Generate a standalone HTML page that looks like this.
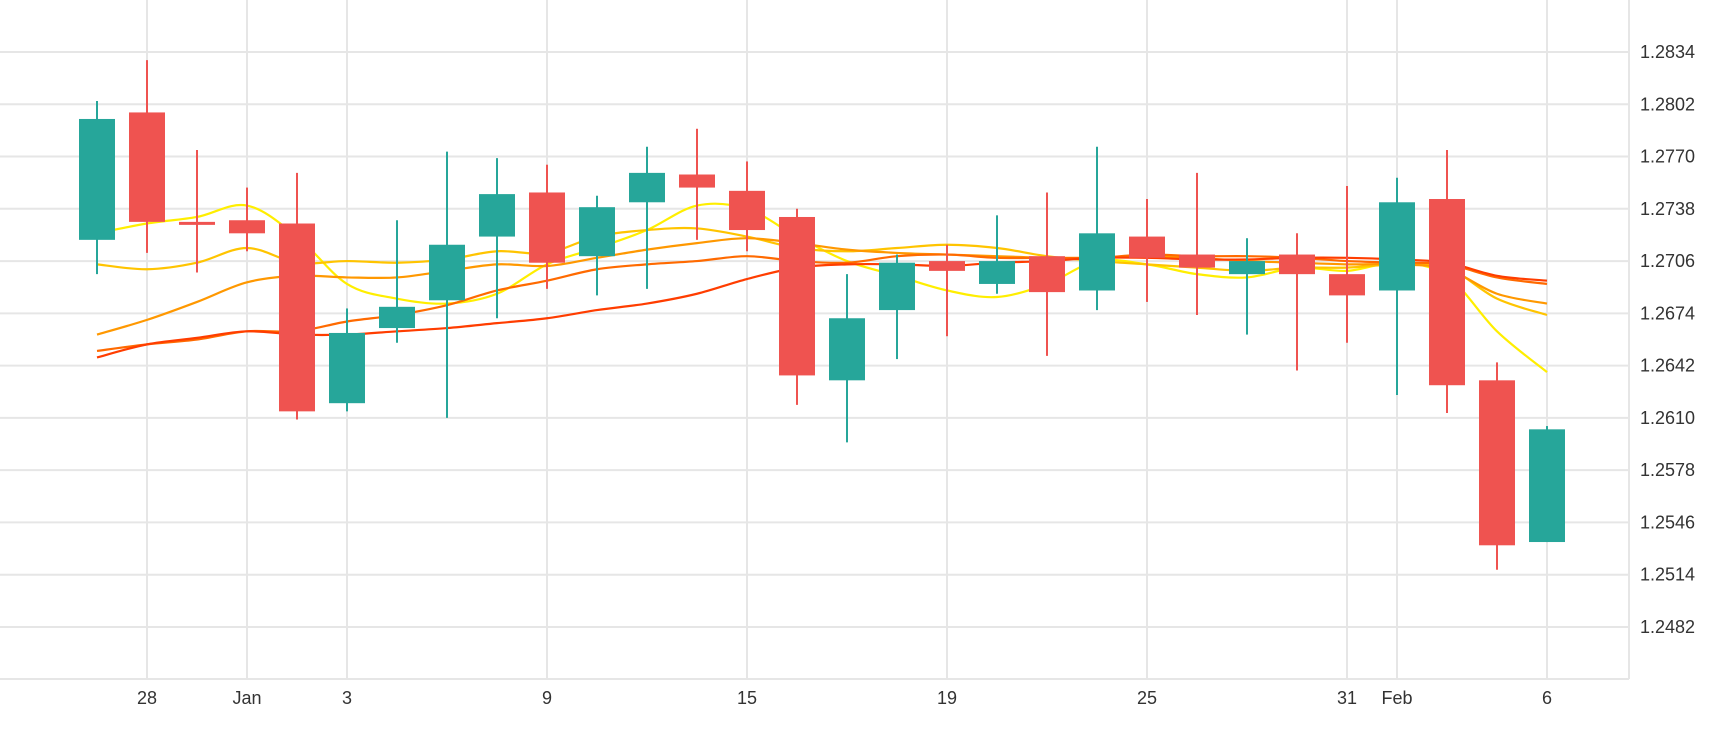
<!DOCTYPE html>
<html><head><meta charset="utf-8"><style>
html,body{margin:0;padding:0;background:#fff;width:1730px;height:730px;overflow:hidden}
svg text{font-family:"Liberation Sans",sans-serif;font-size:18px;fill:#333}
</style></head><body>
<svg id="chart" width="1730" height="730" xmlns="http://www.w3.org/2000/svg">
<g id="grid"></g>
<g id="lines"></g>
<g id="candles"></g>
<g id="axes"></g>
</svg>
<script>
const categories=["Dec 27","28","Dec 29","Jan","Jan 2","3","Jan 4","Jan 5","Jan 8","9","Jan 10","Jan 11","Jan 12","15","Jan 16","Jan 17","Jan 18","19","Jan 22","Jan 23","Jan 24","25","Jan 26","Jan 29","Jan 30","31","Feb","Feb 2","Feb 5","6"];
const labeledIdx=[1,3,5,9,13,17,21,25,26,29];
const openV=[1.2719,1.2797,1.2730,1.2731,1.2729,1.2619,1.2665,1.2682,1.2721,1.2748,1.2709,1.2742,1.2759,1.2749,1.2733,1.2633,1.2676,1.2706,1.2692,1.2709,1.2688,1.2721,1.2710,1.2698,1.2710,1.2698,1.2688,1.2744,1.2633,1.2534];
const highV=[1.2804,1.2829,1.2774,1.2751,1.2760,1.2677,1.2731,1.2773,1.2769,1.2765,1.2746,1.2776,1.2787,1.2767,1.2738,1.2698,1.2710,1.2716,1.2734,1.2748,1.2776,1.2744,1.2760,1.2720,1.2723,1.2752,1.2757,1.2774,1.2644,1.2605];
const lowV=[1.2698,1.2711,1.2699,1.2712,1.2609,1.2614,1.2656,1.2610,1.2671,1.2689,1.2685,1.2689,1.2719,1.2712,1.2618,1.2595,1.2646,1.2660,1.2686,1.2648,1.2676,1.2681,1.2673,1.2661,1.2639,1.2656,1.2624,1.2613,1.2517,1.2534];
const closeV=[1.2793,1.2730,1.2729,1.2723,1.2614,1.2662,1.2678,1.2716,1.2747,1.2705,1.2739,1.2760,1.2751,1.2725,1.2636,1.2671,1.2705,1.2700,1.2706,1.2687,1.2723,1.2708,1.2702,1.2706,1.2698,1.2685,1.2742,1.2630,1.2532,1.2603];
const maYellow=[1.2723,1.2729,1.2733,1.2740,1.2721,1.2692,1.2683,1.2680,1.2686,1.2704,1.2714,1.2725,1.2740,1.2738,1.2721,1.2706,1.2697,1.2688,1.2684,1.2692,1.2706,1.2704,1.2698,1.2696,1.2702,1.2700,1.2705,1.2697,1.2663,1.2638];
const maGold=[1.2704,1.2701,1.2705,1.2714,1.2705,1.2706,1.2705,1.2707,1.2712,1.2711,1.2721,1.2725,1.2726,1.2721,1.2714,1.2712,1.2714,1.2716,1.2714,1.2709,1.2706,1.2704,1.2702,1.2700,1.2702,1.2702,1.2704,1.2702,1.2683,1.2673];
const maOrange=[1.2661,1.2670,1.2681,1.2693,1.2697,1.2696,1.2696,1.2700,1.2704,1.2703,1.2708,1.2713,1.2717,1.2720,1.2717,1.2713,1.2711,1.2710,1.2709,1.2708,1.2708,1.2709,1.2708,1.2706,1.2705,1.2704,1.2704,1.2701,1.2686,1.2680];
const maOrangeRed=[1.2651,1.2655,1.2658,1.2663,1.2663,1.2669,1.2673,1.2679,1.2688,1.2694,1.2701,1.2704,1.2706,1.2709,1.2706,1.2705,1.2709,1.2710,1.2708,1.2708,1.2708,1.2710,1.2709,1.2709,1.2708,1.2706,1.2705,1.2704,1.2696,1.2692];
const maRed=[1.2647,1.2655,1.2659,1.2663,1.2661,1.2661,1.2663,1.2665,1.2668,1.2671,1.2676,1.2680,1.2686,1.2695,1.2702,1.2704,1.2704,1.2703,1.2705,1.2706,1.2708,1.2708,1.2707,1.2707,1.2708,1.2708,1.2707,1.2705,1.2697,1.2694];
const yTicks=["1.2834","1.2802","1.2770","1.2738","1.2706","1.2674","1.2642","1.2610","1.2578","1.2546","1.2514","1.2482"];

const NS="http://www.w3.org/2000/svg";
const xScale=i=>97+50*i;
const yScale=v=>52+(1.2834-v)/0.0032*52.27;
function mk(tag,attrs,parent){const e=document.createElementNS(NS,tag);for(const k in attrs)e.setAttribute(k,attrs[k]);parent.appendChild(e);return e;}
const grid=document.getElementById('grid'),axes=document.getElementById('axes'),lines=document.getElementById('lines'),cg=document.getElementById('candles');
yTicks.forEach(t=>{const y=yScale(parseFloat(t));
 const l=mk('line',{x1:0,x2:1629,y1:y,y2:y,stroke:'#e6e6e6','stroke-width':2},grid);
 
 
 const tx=mk('text',{x:1640,y:y+6},axes);tx.textContent=t;
 
 
});
labeledIdx.forEach(i=>{const x=xScale(i);
 const l=mk('line',{x1:x,x2:x,y1:0,y2:679,stroke:'#e6e6e6','stroke-width':2},grid);
 
 
 let lab=categories[i];if(lab.indexOf(' ')>0)lab=lab.split(' ')[1];
 const tx=mk('text',{x:x,y:704,'text-anchor':'middle'},axes);tx.textContent=lab;
 
 
});
const ax=mk('line',{x1:0,x2:1629,y1:679,y2:679,stroke:'#e6e6e6','stroke-width':2},axes);


const ay=mk('line',{x1:1629,x2:1629,y1:0,y2:679,stroke:'#e6e6e6','stroke-width':2},axes);



function smooth(vals){const p=vals.map((v,i)=>[xScale(i),yScale(v)]);let d='M'+p[0][0]+','+p[0][1];
 for(let i=0;i<p.length-1;i++){const p0=p[i-1]||p[i],p1=p[i],p2=p[i+1],p3=p[i+2]||p2;
  const c1=[p1[0]+(p2[0]-p0[0])/6,p1[1]+(p2[1]-p0[1])/6],c2=[p2[0]-(p3[0]-p1[0])/6,p2[1]-(p3[1]-p1[1])/6];
  d+=' C'+c1+' '+c2+' '+p2;}return d;}
[[maYellow,'#ffee00','ma-yellow'],[maGold,'#ffc400','ma-gold'],[maOrange,'#ff9800','ma-orange'],[maOrangeRed,'#ff6a00','ma-orange-red'],[maRed,'#ff3d00','ma-red']].forEach(s=>{
 const p=mk('path',{d:smooth(s[0]),fill:'none',stroke:s[1],'stroke-width':2.2},lines);
 
 
});
categories.forEach((c,i)=>{const up=closeV[i]>=openV[i];const col=up?'#26a69a':'#ef5350';const x=xScale(i);
 const g=mk('g',{},cg);
 
 
 mk('line',{x1:x,x2:x,y1:yScale(highV[i]),y2:yScale(lowV[i]),stroke:col,'stroke-width':2},g);
 const yt=yScale(Math.max(openV[i],closeV[i])),yb=yScale(Math.min(openV[i],closeV[i]));
 mk('rect',{x:x-18,y:yt,width:36,height:Math.max(yb-yt,3),fill:col},g);
});
</script>
</body></html>
